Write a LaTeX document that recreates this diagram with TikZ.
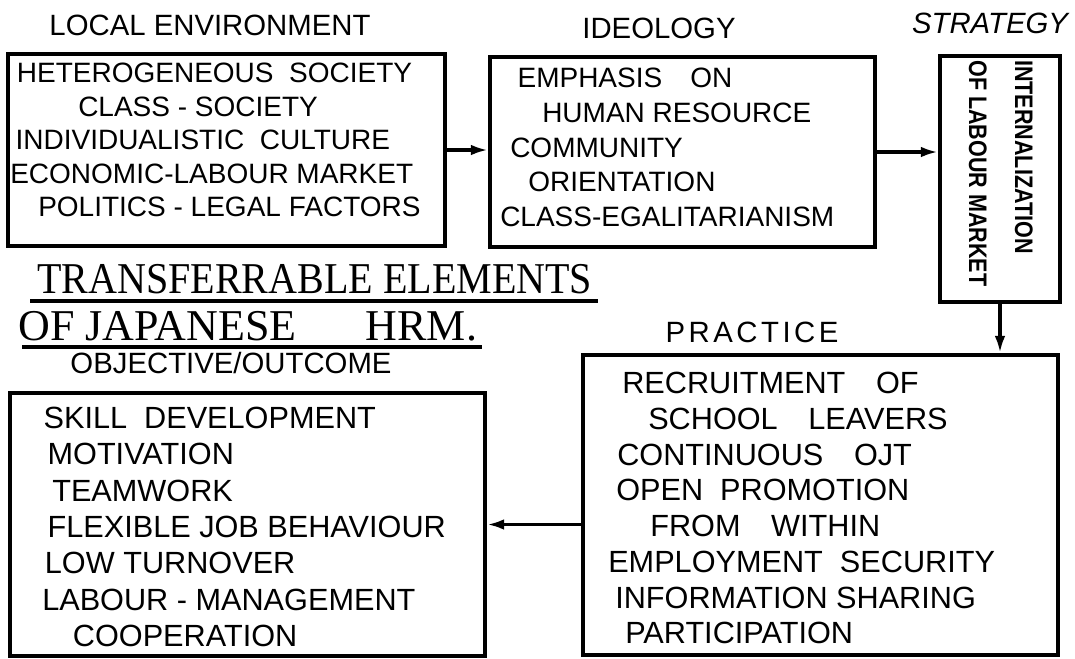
\documentclass[tikz,border=0pt]{standalone}
\usepackage{fontspec}
\setmainfont{Liberation Sans}
\newfontfamily\titlefont{Liberation Serif}
\newfontfamily\titlenarrow[FakeStretch=0.91]{Liberation Serif}
\newfontfamily\stratfont[FakeStretch=0.85]{Liberation Sans}
\usetikzlibrary{arrows.meta}

\tikzset{
	box/.style = {draw, line width = 2.8pt, inner sep = 0pt},
	lines/.style = {anchor = north west, align = left, inner sep = 0pt},
	head/.style = {anchor = base, inner sep = 0pt, font = \fontsize{22}{26}\selectfont},
	ttl/.style = {anchor = base west, inner sep = 0pt},
	arr/.style = {line width = 2.8pt, -{Latex[length = 13pt, width = 8pt]}},
	uline/.style = {line width = 2.4pt}
}

\begin{document}
\begin{tikzpicture}[x = 0.75pt, y = -0.75pt]%1 unit = 1 px, y down
	\useasboundingbox (0,0) rectangle (1075,658);

	\node[box, minimum width = 327.75pt, minimum height = 144pt] (ENV) at (226.5,150) {};
	\node[box, minimum width = 288.75pt, minimum height = 142.5pt] (IDEO) at (682.5,152) {};
	\node[box, minimum width = 90pt, minimum height = 184.5pt] (STRAT) at (1000,179) {};
	\node[box, minimum width = 356.25pt, minimum height = 225pt] (PRAC) at (820.5,505) {};
	\node[box, minimum width = 356.25pt, minimum height = 197.25pt] (OUTC) at (247.5,524.5) {};

	\node[head] (ENVH) at (210,35) {LOCAL ENVIRONMENT};
	\node[head] (IDEOH) at (659,38) {IDEOLOGY};
	\node[head, font = \fontsize{22}{26}\selectfont\itshape] (STRATH) at (990,33) {STRATEGY};
	\node[head, font = \fontsize{22}{26}\selectfont\addfontfeature{LetterSpace = 12}] (PRACH) at (752,342) {PRACTICE};
	\node[head] (OUTCH) at (231,373) {OBJECTIVE/OUTCOME};

	\node[lines, font = \fontsize{21}{25.1}\selectfont] (ENVT) at (10,63)
	{\hspace*{5pt}HETEROGENEOUS\ \ SOCIETY\\ \hspace*{51pt}CLASS - SOCIETY\\ \hspace*{4pt}INDIVIDUALISTIC\ \ CULTURE\\ ECONOMIC-LABOUR MARKET\\ \hspace*{21pt}POLITICS - LEGAL FACTORS};
	\node[lines, font = \fontsize{21}{26}\selectfont] (IDEOT) at (500,68)
	{\hspace*{13pt}EMPHASIS\quad ON\\ \hspace*{31.5pt}HUMAN RESOURCE\\ \hspace*{7.5pt}COMMUNITY\\ \hspace*{21pt}ORIENTATION\\ CLASS-EGALITARIANISM};
	\node[lines, rotate = -90, font = \stratfont\bfseries\fontsize{19}{34.5}\selectfont] (STRATT) at (1033,60)
	{INTERNALIZATION\\ OF LABOUR MARKET};
	\node[lines, font = \fontsize{23}{26.8}\selectfont] (PRACT) at (608,372)
	{\hspace*{10.5pt}RECRUITMENT\quad OF\\ \hspace*{30pt}SCHOOL\quad LEAVERS\\ \hspace*{6.75pt}CONTINUOUS\quad OJT\\ \hspace*{6pt}OPEN\ \ PROMOTION\\ \hspace*{31.5pt}FROM\quad WITHIN\\ EMPLOYMENT\ \ SECURITY\\ \hspace*{5.25pt}INFORMATION SHARING\\ \hspace*{12.75pt}PARTICIPATION};
	\node[lines, font = \fontsize{23}{27.2}\selectfont] (OUTCT) at (42,407)
	{\hspace*{1pt}SKILL\ \ DEVELOPMENT\\ \hspace*{4pt}MOTIVATION\\ \hspace*{7.5pt}TEAMWORK\\ \hspace*{4pt}FLEXIBLE JOB BEHAVIOUR\\ \hspace*{2pt}LOW TURNOVER\\ LABOUR - MANAGEMENT\\ \hspace*{23pt}COOPERATION};

	\node[ttl, font = \titlenarrow\fontsize{33}{36}\selectfont] (TTL1) at (37,293) {TRANSFERRABLE ELEMENTS};
	\node[ttl, font = \titlefont\fontsize{33}{36}\selectfont] (TTL2) at (18,340) {OF JAPANESE\hspace{52pt}HRM.};
	\draw[uline] ([shift = {(-7,8)}]TTL1.base west) -- ([shift = {(5,8)}]TTL1.base east);
	\draw[uline] ([shift = {(4,7)}]TTL2.base west) -- ([shift = {(5,7)}]TTL2.base east);

	\draw[arr] (ENV.east) -- (ENV.east -| IDEO.west);
	\draw[arr] (IDEO.east) -- (IDEO.east -| STRAT.west);
	\draw[arr] (STRAT.south) -- (STRAT.south |- PRAC.north);
	\draw[arr] (PRAC.west |- OUTC.east) -- (OUTC.east);
\end{tikzpicture}
\end{document}
